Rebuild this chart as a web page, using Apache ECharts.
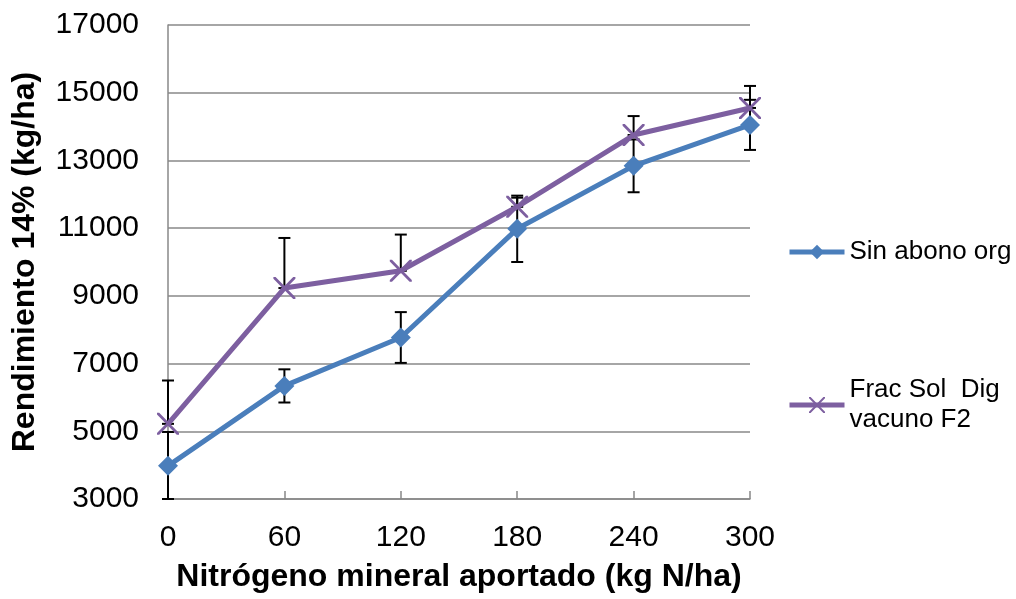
<!DOCTYPE html>
<html><head><meta charset="utf-8">
<script src="https://cdn.jsdelivr.net/npm/echarts@6/dist/echarts.min.js"></script>
<style>html,body{margin:0;padding:0;background:#fff}#c{width:1016px;height:599px}</style>
</head><body><div id="c"></div>
<script>
var nitrogen = [0, 60, 120, 180, 240, 300];
var sinAbono = [3980, 6340, 7770, 10980, 12840, 14050];
var sinAbonoErr = [1000, 490, 750, 980, 780, 740];
var fracSol = [5220, 9230, 9740, 11630, 13750, 14550];
var fracSolErrPlus = [1280, 1480, 1070, 270, 560, 650];
var yTicks = {min: 3000, max: 17000, interval: 2000};
var xTicks = {min: 0, max: 300, interval: 60};

var FONT = '"Liberation Sans", Arial, sans-serif';
var BLUE = '#4a7ebb', PURPLE = '#7d5fa0';
var xPath = 'path://M0,0L1,0L10,9.2L10,10L9,10L0,0.8Z M9,0L10,0L10,0.8L1,10L0,10L0,9.2Z';

function pairs(xs, ys){ return xs.map(function(x,i){ return [x, ys[i]]; }); }
var blueErrData = nitrogen.map(function(x,i){ return [x, sinAbono[i]-sinAbonoErr[i], sinAbono[i]+sinAbonoErr[i]]; });
var purpleErrData = nitrogen.map(function(x,i){ return [x, fracSol[i], fracSol[i]+fracSolErrPlus[i]]; });

function errRender(params, api){
  var x = api.value(0);
  var lo = api.coord([x, api.value(1)]);
  var hi = api.coord([x, api.value(2)]);
  var cs = params.coordSys;
  var bottom = cs.y + cs.height, top = cs.y;
  var yl = Math.min(lo[1], bottom), yh = Math.max(hi[1], top);
  var cx = lo[0], w = 6;
  var st = {stroke: '#000', lineWidth: 2};
  return {type: 'group', children: [
    {type: 'line', shape: {x1: cx, y1: yl, x2: cx, y2: yh}, style: st},
    {type: 'line', shape: {x1: cx - w, y1: yh, x2: cx + w, y2: yh}, style: st},
    {type: 'line', shape: {x1: cx - w, y1: yl, x2: cx + w, y2: yl}, style: st}
  ]};
}

var chart = echarts.init(document.getElementById('c'));
chart.setOption({
  animation: false,
  grid: {left: 168, right: 266, top: 25, bottom: 100, containLabel: false, outerBoundsMode: 'none'},
  legend: [
    {left: 782, top: 234, itemWidth: 55, itemHeight: 18, itemGap: 5, textStyle: {fontFamily: FONT, fontSize: 26, color: '#000'},
      lineStyle: {width: 5}, data: ['Sin abono org']},
    {left: 782, top: 370, itemWidth: 55, itemHeight: 20, itemGap: 5, textStyle: {fontFamily: FONT, fontSize: 26, color: '#000', lineHeight: 30},
      lineStyle: {width: 5}, data: ['Frac Sol  Dig\nvacuno F2']}
  ],
  xAxis: {
    type: 'value', min: xTicks.min, max: xTicks.max, interval: xTicks.interval,
    name: 'Nitrógeno mineral aportado (kg N/ha)', nameLocation: 'middle', nameGap: 62,
    nameTextStyle: {fontFamily: FONT, fontSize: 32, fontWeight: 'bold', color: '#000'},
    axisLine: {show: true, lineStyle: {color: '#888', width: 1.5}},
    axisTick: {show: true, inside: true, length: 8, lineStyle: {color: '#888', width: 1.5}},
    axisLabel: {fontFamily: FONT, fontSize: 30, color: '#000', margin: 24, formatter: function(v){ return String(v); }},
    splitLine: {show: false}
  },
  yAxis: {
    type: 'value', min: yTicks.min, max: yTicks.max, interval: yTicks.interval,
    name: 'Rendimiento 14% (kg/ha)', nameLocation: 'middle', nameGap: 127,
    nameTextStyle: {fontFamily: FONT, fontSize: 32, fontWeight: 'bold', color: '#000'},
    axisLine: {show: true, lineStyle: {color: '#888', width: 1.5}},
    axisTick: {show: false},
    axisLabel: {fontFamily: FONT, fontSize: 30, color: '#000', margin: 29, formatter: function(v){ return String(v); }},
    splitLine: {show: true, lineStyle: {color: '#888', width: 1.5}}
  },
  series: [
    {type: 'custom', name: 'errBlue', renderItem: errRender, data: blueErrData, z: 1, encode: {x: 0, y: [1, 2]}, silent: true},
    {type: 'custom', name: 'errPurple', renderItem: errRender, data: purpleErrData, z: 1, encode: {x: 0, y: [1, 2]}, silent: true},
    {type: 'line', name: 'Sin abono org', data: pairs(nitrogen, sinAbono), z: 3,
      symbol: 'diamond', symbolSize: 20, itemStyle: {color: BLUE},
      lineStyle: {color: BLUE, width: 5}},
    {type: 'line', name: 'Frac Sol  Dig\nvacuno F2', data: pairs(nitrogen, fracSol), z: 2,
      symbol: xPath, symbolSize: 22, itemStyle: {color: PURPLE},
      lineStyle: {color: PURPLE, width: 5}}
  ]
});
</script></body></html>
